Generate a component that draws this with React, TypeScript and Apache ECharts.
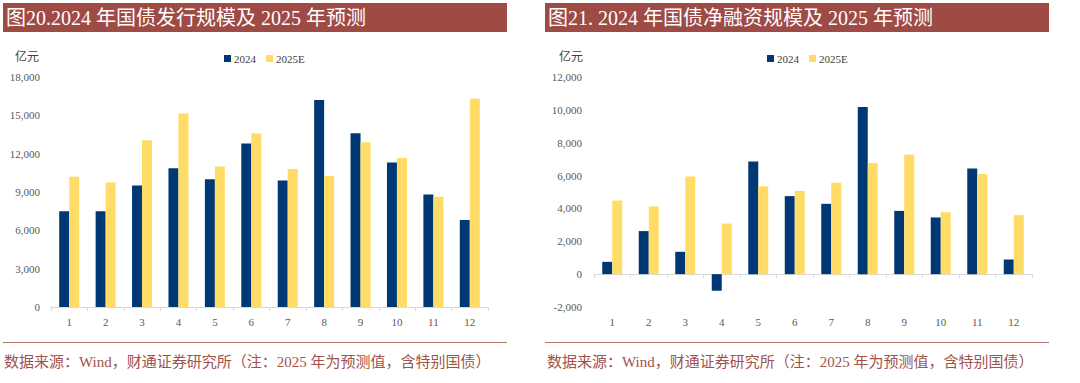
import React, { useEffect, useRef } from "react";
import * as echarts from "echarts";

const months = ["1", "2", "3", "4", "5", "6", "7", "8", "9", "10", "11", "12"];
const seriesNames = ["2024", "2025E"];

// 图20 国债发行规模 (亿元)
const issuance2024 = [7500, 7500, 9500, 10850, 10000, 12800, 9900, 16200, 13600, 11300, 8800, 6800];
const issuance2025E = [10200, 9750, 13050, 15150, 11000, 13570, 10800, 10250, 12900, 11670, 8630, 16300];
const issuanceAxis = { min: 0, max: 18000, interval: 3000 };

// 图21 国债净融资规模 (亿元)
const netFin2024 = [750, 2620, 1360, -1010, 6860, 4750, 4280, 10180, 3850, 3450, 6430, 890];
const netFin2025E = [4480, 4120, 5940, 3080, 5350, 5070, 5560, 6770, 7260, 3770, 6090, 3590];
const netFinAxis = { min: -2000, max: 12000, interval: 2000 };

const title1 = "图20.2024 年国债发行规模及 2025 年预测";
const title2 = "图21. 2024 年国债净融资规模及 2025 年预测";
const footer = "数据来源：Wind，财通证券研究所（注：2025 年为预测值，含特别国债）";
const unit = "亿元";

const NAVY = "#003876";
const YELLOW = "#FFDC65";
const BAR_RED = "#9E4A45";
const FOOT_RED = "#A0524C";
const SERIF = "'Liberation Serif', 'Noto Sans CJK SC', serif";

export default function App() {
  const ref = useRef<HTMLDivElement>(null);

  useEffect(() => {
    if (!ref.current) return;
    const chart = echarts.init(ref.current, undefined, { renderer: "svg" });
    const fmt = (v: number) => v.toLocaleString("en-US");

    const yAxisCommon = {
      type: "value",
      axisLine: { show: false },
      axisTick: { show: false },
      splitLine: { show: false },
      axisLabel: { color: "#595959", fontSize: 11, fontFamily: SERIF, formatter: fmt },
    };
    const xLine = { lineStyle: { color: "#D9D9D9", width: 1 } };
    const xTick = { show: true, length: 4, lineStyle: { color: "#D9D9D9" } };
    const xLabel = { color: "#595959", fontSize: 11, fontFamily: SERIF, margin: 9 };

    const barCommon = { type: "bar", barWidth: 10, barGap: "0%" };

    const legendCommon = {
      top: 48,
      data: seriesNames,
      icon: "rect",
      itemWidth: 7,
      itemHeight: 7,
      itemGap: 10,
      textStyle: { color: "#404040", fontSize: 11, fontFamily: SERIF, padding: [0, 0, 0, -2] },
    };

    const option: any = {
      animation: false,
      textStyle: { fontFamily: SERIF },
      legend: [
        { ...legendCommon, left: 219 },
        { ...legendCommon, left: 762 },
      ],
      grid: [
        { left: 51, right: 592, top: 77, bottom: 76 },
        { left: 594, right: 48, top: 77, bottom: 76 },
      ],
      xAxis: [
        {
          type: "category",
          gridIndex: 0,
          data: months,
          axisLine: xLine,
          axisTick: xTick,
          axisLabel: xLabel,
        },
        {
          type: "category",
          gridIndex: 1,
          position: "bottom",
          data: months,
          axisLine: { ...xLine, onZero: true },
          axisTick: xTick,
          axisLabel: { show: false },
        },
        {
          type: "category",
          gridIndex: 1,
          position: "bottom",
          data: months,
          axisLine: { show: false, onZero: false },
          axisTick: { show: false },
          axisLabel: xLabel,
        },
      ],
      yAxis: [
        { ...yAxisCommon, gridIndex: 0, ...issuanceAxis, axisLabel: { ...yAxisCommon.axisLabel, margin: 11 } },
        { ...yAxisCommon, gridIndex: 1, ...netFinAxis, axisLabel: { ...yAxisCommon.axisLabel, margin: 12 } },
      ],
      series: [
        { ...barCommon, name: seriesNames[0], xAxisIndex: 0, yAxisIndex: 0, data: issuance2024, itemStyle: { color: NAVY } },
        { ...barCommon, name: seriesNames[1], xAxisIndex: 0, yAxisIndex: 0, data: issuance2025E, itemStyle: { color: YELLOW } },
        { ...barCommon, name: seriesNames[0], xAxisIndex: 1, yAxisIndex: 1, data: netFin2024, itemStyle: { color: NAVY } },
        { ...barCommon, name: seriesNames[1], xAxisIndex: 1, yAxisIndex: 1, data: netFin2025E, itemStyle: { color: YELLOW } },
      ],
      graphic: [
        { type: "rect", shape: { x: 3, y: 3, width: 504, height: 29 }, style: { fill: BAR_RED } },
        { type: "rect", shape: { x: 545, y: 3, width: 504, height: 29 }, style: { fill: BAR_RED } },
        {
          type: "text",
          x: 6,
          y: 18,
          style: { text: title1, fill: "#ffffff", font: `20px ${SERIF}`, verticalAlign: "middle" },
        },
        {
          type: "text",
          x: 548,
          y: 18,
          style: { text: title2, fill: "#ffffff", font: `20px ${SERIF}`, verticalAlign: "middle" },
        },
        { type: "text", x: 15, y: 57, style: { text: unit, fill: "#404040", font: `12px ${SERIF}`, verticalAlign: "middle" } },
        { type: "text", x: 559, y: 57, style: { text: unit, fill: "#404040", font: `12px ${SERIF}`, verticalAlign: "middle" } },
        { type: "line", shape: { x1: 3, y1: 342.5, x2: 507, y2: 342.5 }, style: { stroke: "#B87570", lineWidth: 1 } },
        { type: "line", shape: { x1: 545, y1: 342.5, x2: 1049, y2: 342.5 }, style: { stroke: "#B87570", lineWidth: 1 } },
        { type: "text", x: 4, y: 362, style: { text: footer, fill: FOOT_RED, font: `15px ${SERIF}`, verticalAlign: "middle" } },
        { type: "text", x: 547, y: 362, style: { text: footer, fill: FOOT_RED, font: `15px ${SERIF}`, verticalAlign: "middle" } },
      ],
    };

    chart.setOption(option);
    return () => chart.dispose();
  }, []);

  return (
    <div
      ref={ref}
      style={{ position: "fixed", left: 0, top: 0, width: 1080, height: 383, background: "#ffffff" }}
    />
  );
}
